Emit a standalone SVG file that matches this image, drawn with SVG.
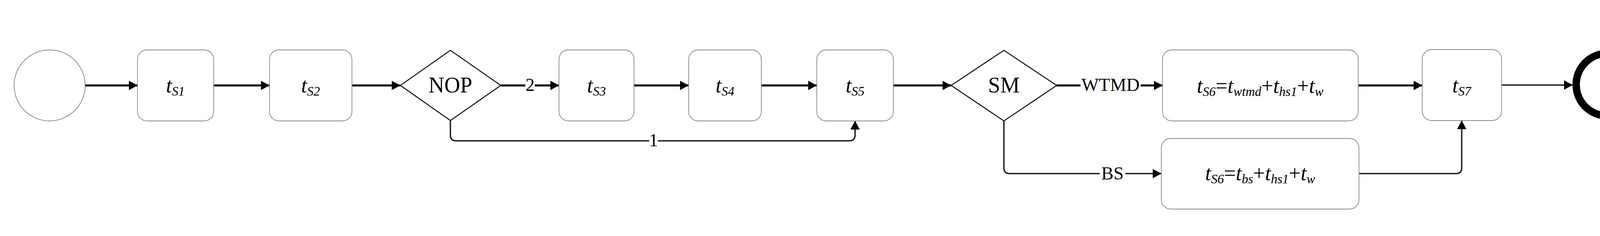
<svg xmlns="http://www.w3.org/2000/svg" width="4275" height="605" viewBox="0 0 4275 605">
<style>
text{font-family:"Liberation Serif","Times New Roman",serif;fill:#000}
.box{fill:#fff;stroke:#8a8a8a;stroke-width:1.8}
.dia{fill:#fff;stroke:#111;stroke-width:2.6}
.main{fill:none;stroke:#1e1e1e;stroke-width:5.5}
.sec{fill:none;stroke:#1e1e1e;stroke-width:3.5}
.t{font-size:54px;font-style:italic}
.s{font-size:33px;font-style:italic}
.r{font-style:normal}
.lbl{font-size:47px;text-anchor:middle}
.nl{font-size:56px;text-anchor:middle}
.bg{fill:#fff}
</style>
<defs>
<marker id="ah" markerUnits="userSpaceOnUse" markerWidth="24" markerHeight="24" viewBox="0 0 22 24" refX="22" refY="12" orient="auto">
<path d="M0,0 L22,12 L0,24 Z" fill="#000"/>
</marker>
</defs>
<rect width="4275" height="605" fill="#fff"/>
<g id="connectors">
<path class="main" d="M218,219 H352" marker-end="url(#ah)"/>
<path class="main" d="M547,219 H690" marker-end="url(#ah)"/>
<path class="main" d="M901,219 H1025" marker-end="url(#ah)"/>
<path class="main" d="M1282,219 H1431" marker-end="url(#ah)"/>
<path class="main" d="M1623,219 H1763" marker-end="url(#ah)"/>
<path class="main" d="M1949,219 H2091" marker-end="url(#ah)"/>
<path class="main" d="M2287,219 H2435" marker-end="url(#ah)"/>
<path class="main" d="M2705,219 H2976" marker-end="url(#ah)"/>
<path class="main" d="M3477,219 H3641" marker-end="url(#ah)"/>
<path class="sec" d="M3844,218 H4026" marker-end="url(#ah)"/>
<path class="sec" d="M1153,309 V346 Q1153,361 1168,361 H2174 Q2189,361 2189,346 V310" marker-end="url(#ah)"/>
<path class="sec" d="M2570,310 V430 Q2570,445 2585,445 H2973" marker-end="url(#ah)"/>
<path class="sec" d="M3479,445 H3727 Q3742,445 3742,430 V309" marker-end="url(#ah)"/>
<rect class="bg" x="1345" y="200" width="24" height="36"/>
<text class="lbl" x="1357" y="233">2</text>
<rect class="bg" x="1662" y="340" width="22" height="38"/>
<text class="lbl" x="1673" y="375">1</text>
<rect class="bg" x="2766" y="198" width="154" height="40"/>
<text class="lbl" x="2843" y="233">WTMD</text>
<rect class="bg" x="2815" y="425" width="66" height="40"/>
<text class="lbl" x="2848" y="460">BS</text>
</g>
<g id="start"><circle cx="127" cy="219" r="91" fill="#fff" stroke="#666" stroke-width="1.4"/></g>
<g id="tS1"><rect class="box" x="352" y="128" width="195" height="182" rx="24"/><text x="449" y="237" text-anchor="middle"><tspan class="t">t</tspan><tspan class="s" dy="8">S1</tspan></text></g>
<g id="tS2"><rect class="box" x="690" y="128" width="211" height="182" rx="24"/><text x="795" y="237" text-anchor="middle"><tspan class="t">t</tspan><tspan class="s" dy="8">S2</tspan></text></g>
<g id="NOP"><polygon class="dia" points="1025,219 1153,129 1282,219 1153,309"/><text class="nl" x="1153" y="237">NOP</text></g>
<g id="tS3"><rect class="box" x="1431" y="128" width="192" height="182" rx="24"/><text x="1527" y="237" text-anchor="middle"><tspan class="t">t</tspan><tspan class="s" dy="8">S3</tspan></text></g>
<g id="tS4"><rect class="box" x="1763" y="128" width="186" height="182" rx="24"/><text x="1856" y="237" text-anchor="middle"><tspan class="t">t</tspan><tspan class="s" dy="8">S4</tspan></text></g>
<g id="tS5"><rect class="box" x="2091" y="128" width="196" height="182" rx="24"/><text x="2189" y="237" text-anchor="middle"><tspan class="t">t</tspan><tspan class="s" dy="8">S5</tspan></text></g>
<g id="SM"><polygon class="dia" points="2435,219 2570,129 2705,219 2570,310"/><text class="nl" x="2570" y="237">SM</text></g>
<g id="tS6wtmd"><rect class="box" x="2976" y="128" width="501" height="182" rx="24"/><text x="3226" y="238" text-anchor="middle"><tspan class="t">t</tspan><tspan class="s" dy="8">S6</tspan><tspan class="t r" dy="-8">=</tspan><tspan class="t">t</tspan><tspan class="s" dy="8">wtmd</tspan><tspan class="t r" dy="-8">+</tspan><tspan class="t">t</tspan><tspan class="s" dy="8">hs1</tspan><tspan class="t r" dy="-8">+</tspan><tspan class="t">t</tspan><tspan class="s" dy="8">w</tspan></text></g>
<g id="tS6bs"><rect class="box" x="2973" y="355" width="506" height="181" rx="24"/><text x="3226" y="462" text-anchor="middle"><tspan class="t">t</tspan><tspan class="s" dy="8">S6</tspan><tspan class="t r" dy="-8">=</tspan><tspan class="t">t</tspan><tspan class="s" dy="8">bs</tspan><tspan class="t r" dy="-8">+</tspan><tspan class="t">t</tspan><tspan class="s" dy="8">hs1</tspan><tspan class="t r" dy="-8">+</tspan><tspan class="t">t</tspan><tspan class="s" dy="8">w</tspan></text></g>
<g id="tS7"><rect class="box" x="3641" y="127" width="203" height="182" rx="24"/><text x="3742" y="237" text-anchor="middle"><tspan class="t">t</tspan><tspan class="s" dy="8">S7</tspan></text></g>
<g id="end"><circle cx="4115" cy="217" r="80" fill="#fff" stroke="#000" stroke-width="19"/></g>
</svg>
